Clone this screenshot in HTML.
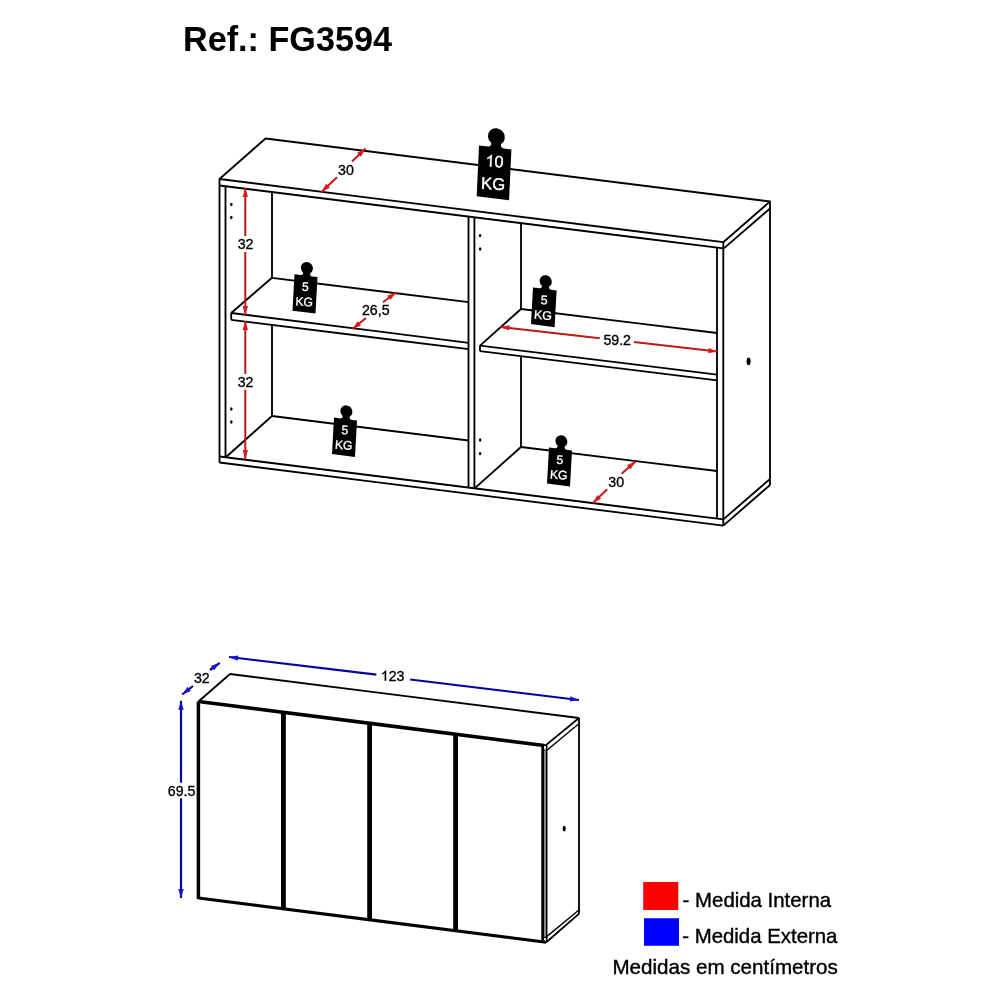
<!DOCTYPE html>
<html><head><meta charset="utf-8"><style>
html,body{margin:0;padding:0;background:#fff;}
svg{display:block;font-family:"Liberation Sans",sans-serif;will-change:transform;}
</style></head><body>
<svg width="1000" height="1000" viewBox="0 0 1000 1000">
<path d="M265.5,138.5 L770,201.5 L723.3,242.2 L219.5,179 Z" stroke="#000" stroke-width="1.85" fill="none" stroke-linejoin="round"/>
<line x1="219.5" y1="185.5" x2="723.3" y2="248.4" stroke="#000" stroke-width="1.85" stroke-linecap="butt"/>
<line x1="723.8" y1="248.4" x2="770" y2="208.5" stroke="#000" stroke-width="1.85" stroke-linecap="butt"/>
<line x1="219.5" y1="179" x2="219.5" y2="462.5" stroke="#000" stroke-width="1.85" stroke-linecap="butt"/>
<line x1="225.5" y1="186.24910678840808" x2="225.5" y2="457.2488" stroke="#000" stroke-width="1.85" stroke-linecap="butt"/>
<line x1="723.3" y1="242.2" x2="723.3" y2="525.6" stroke="#000" stroke-width="1.85" stroke-linecap="butt"/>
<line x1="717" y1="247.61343787217152" x2="717" y2="518.6" stroke="#000" stroke-width="1.85" stroke-linecap="butt"/>
<line x1="770" y1="201.5" x2="770" y2="485" stroke="#000" stroke-width="1.85" stroke-linecap="butt"/>
<line x1="219.5" y1="456.5" x2="723.3" y2="519.4" stroke="#000" stroke-width="1.85" stroke-linecap="butt"/>
<line x1="219.5" y1="462.5" x2="723.3" y2="525.6" stroke="#000" stroke-width="1.85" stroke-linecap="butt"/>
<line x1="723.3" y1="525.6" x2="770" y2="485" stroke="#000" stroke-width="1.85" stroke-linecap="butt"/>
<line x1="723.3" y1="519.4" x2="770" y2="479" stroke="#000" stroke-width="1.85" stroke-linecap="butt"/>
<line x1="468.5" y1="216.5879317189361" x2="468.5" y2="487.5879317189361" stroke="#000" stroke-width="1.85" stroke-linecap="butt"/>
<line x1="474.4" y1="217.32455339420406" x2="474.4" y2="488.32455339420403" stroke="#000" stroke-width="1.85" stroke-linecap="butt"/>
<line x1="272" y1="277.8" x2="468.5" y2="302.2" stroke="#000" stroke-width="1.85" stroke-linecap="butt"/>
<line x1="231.2" y1="313" x2="272" y2="277.8" stroke="#000" stroke-width="1.85" stroke-linecap="butt"/>
<line x1="231.2" y1="313" x2="468.5" y2="342.8" stroke="#000" stroke-width="1.85" stroke-linecap="butt"/>
<line x1="231.2" y1="319.8" x2="468.5" y2="349.2" stroke="#000" stroke-width="1.85" stroke-linecap="butt"/>
<line x1="231.2" y1="313" x2="231.2" y2="319.8" stroke="#000" stroke-width="1.85" stroke-linecap="butt"/>
<line x1="521" y1="309" x2="717" y2="333" stroke="#000" stroke-width="1.85" stroke-linecap="butt"/>
<line x1="480" y1="345.6" x2="521" y2="309" stroke="#000" stroke-width="1.85" stroke-linecap="butt"/>
<line x1="480" y1="345.6" x2="717" y2="374.6" stroke="#000" stroke-width="1.85" stroke-linecap="butt"/>
<line x1="480" y1="351.2" x2="717" y2="380.4" stroke="#000" stroke-width="1.85" stroke-linecap="butt"/>
<line x1="480" y1="345.6" x2="480" y2="351.2" stroke="#000" stroke-width="1.85" stroke-linecap="butt"/>
<line x1="272" y1="192.05468439857086" x2="272" y2="277.8" stroke="#000" stroke-width="1.85" stroke-linecap="butt"/>
<line x1="272" y1="324.8548672566372" x2="272" y2="416" stroke="#000" stroke-width="1.85" stroke-linecap="butt"/>
<line x1="521" y1="223.14261611750695" x2="521" y2="309" stroke="#000" stroke-width="1.85" stroke-linecap="butt"/>
<line x1="521" y1="356.2514767932489" x2="521" y2="447" stroke="#000" stroke-width="1.85" stroke-linecap="butt"/>
<line x1="272" y1="416" x2="468.5" y2="440.5" stroke="#000" stroke-width="1.85" stroke-linecap="butt"/>
<line x1="272" y1="416" x2="225.8" y2="457.28624" stroke="#000" stroke-width="1.85" stroke-linecap="butt"/>
<line x1="521" y1="447" x2="717" y2="471" stroke="#000" stroke-width="1.85" stroke-linecap="butt"/>
<line x1="521" y1="447" x2="474.6" y2="488.3495236204843" stroke="#000" stroke-width="1.85" stroke-linecap="butt"/>
<ellipse cx="231.3" cy="204.5" rx="1.25" ry="1.7" fill="#000"/>
<ellipse cx="231.3" cy="217.5" rx="1.25" ry="1.7" fill="#000"/>
<ellipse cx="231.3" cy="409" rx="1.25" ry="1.7" fill="#000"/>
<ellipse cx="231.3" cy="422" rx="1.25" ry="1.7" fill="#000"/>
<ellipse cx="480.1" cy="235.6" rx="1.25" ry="1.7" fill="#000"/>
<ellipse cx="480.1" cy="249" rx="1.25" ry="1.7" fill="#000"/>
<ellipse cx="480.1" cy="440" rx="1.25" ry="1.7" fill="#000"/>
<ellipse cx="480.1" cy="453.6" rx="1.25" ry="1.7" fill="#000"/>
<ellipse cx="748.6" cy="361.4" rx="2.0" ry="3.8" fill="#000"/>
<g transform="matrix(1.4087,0.1783,-0.0639,1.4111,479,145.4)"><path d="M0,0 L6.40,0 Q8.60,0 8.60,-2.76 L8.60,-2.76 A6.0,6.0 0 1 1 15.40,-2.76 L15.40,-2.76 Q15.40,0 17.60,0 L23.0,0 L23.0,36.0 L0,36.0 Z" fill="#000"/><g transform="translate(11.5,13.8) skewY(-4) translate(-11.5,-13.8)"><path d="M763,0 H583 V1147 Q518,1085 412.5,1023 T223,930 V1104 Q374,1175 487,1276 T647,1472 H763 Z" fill="#fff" stroke="#fff" stroke-width="53.4" transform="translate(5.10,13.8) scale(0.00562,-0.00562)"/><text x="11.50" y="13.8" font-size="11.5" fill="#fff" stroke="#fff" stroke-width="0.3">0</text></g><g transform="translate(11.2,29.8) skewY(-4) translate(-11.2,-29.8)"><text x="11.2" y="29.8" font-size="11.8" fill="#fff" stroke="#fff" stroke-width="0.3" text-anchor="middle">KG</text></g></g>
<g transform="matrix(1.0000,0.1217,-0.0556,1.0139,294.5,274.3)"><path d="M0,0 L6.40,0 Q8.60,0 8.60,-2.66 L8.60,-2.66 A6.0,6.0 0 1 1 15.40,-2.66 L15.40,-2.66 Q15.40,0 17.60,0 L23.0,0 L23.0,36.0 L0,36.0 Z" fill="#000"/><g transform="translate(11.5,15.0) skewY(-4) translate(-11.5,-15.0)"><text x="8.11" y="15.0" font-size="12.2" fill="#fff" stroke="#fff" stroke-width="0.3">5</text></g><g transform="translate(11.2,30.0) skewY(-4) translate(-11.2,-30.0)"><text x="11.2" y="30.0" font-size="12.2" fill="#fff" stroke="#fff" stroke-width="0.3" text-anchor="middle">KG</text></g></g>
<g transform="matrix(1.0261,0.1391,-0.0556,1.0167,533,287.4)"><path d="M0,0 L6.40,0 Q8.60,0 8.60,-2.66 L8.60,-2.66 A6.0,6.0 0 1 1 15.40,-2.66 L15.40,-2.66 Q15.40,0 17.60,0 L23.0,0 L23.0,36.0 L0,36.0 Z" fill="#000"/><g transform="translate(11.5,15.0) skewY(-4) translate(-11.5,-15.0)"><text x="8.11" y="15.0" font-size="12.2" fill="#fff" stroke="#fff" stroke-width="0.3">5</text></g><g transform="translate(11.2,30.0) skewY(-4) translate(-11.2,-30.0)"><text x="11.2" y="30.0" font-size="12.2" fill="#fff" stroke="#fff" stroke-width="0.3" text-anchor="middle">KG</text></g></g>
<g transform="matrix(1.0000,0.1304,-0.0556,1.0111,334,417.6)"><path d="M0,0 L6.40,0 Q8.60,0 8.60,-2.66 L8.60,-2.66 A6.0,6.0 0 1 1 15.40,-2.66 L15.40,-2.66 Q15.40,0 17.60,0 L23.0,0 L23.0,36.0 L0,36.0 Z" fill="#000"/><g transform="translate(11.5,15.0) skewY(-4) translate(-11.5,-15.0)"><text x="8.11" y="15.0" font-size="12.2" fill="#fff" stroke="#fff" stroke-width="0.3">5</text></g><g transform="translate(11.2,30.0) skewY(-4) translate(-11.2,-30.0)"><text x="11.2" y="30.0" font-size="12.2" fill="#fff" stroke="#fff" stroke-width="0.3" text-anchor="middle">KG</text></g></g>
<g transform="matrix(1.0000,0.1304,-0.0556,1.0056,549,447.4)"><path d="M0,0 L6.40,0 Q8.60,0 8.60,-2.66 L8.60,-2.66 A6.0,6.0 0 1 1 15.40,-2.66 L15.40,-2.66 Q15.40,0 17.60,0 L23.0,0 L23.0,36.0 L0,36.0 Z" fill="#000"/><g transform="translate(11.5,15.0) skewY(-4) translate(-11.5,-15.0)"><text x="8.11" y="15.0" font-size="12.2" fill="#fff" stroke="#fff" stroke-width="0.3">5</text></g><g transform="translate(11.2,30.0) skewY(-4) translate(-11.2,-30.0)"><text x="11.2" y="30.0" font-size="12.2" fill="#fff" stroke="#fff" stroke-width="0.3" text-anchor="middle">KG</text></g></g>
<line x1="245.3" y1="188" x2="245.3" y2="236" stroke="#b81c14" stroke-width="2.0" stroke-linecap="butt"/>
<line x1="245.3" y1="252" x2="245.3" y2="315" stroke="#b81c14" stroke-width="2.0" stroke-linecap="butt"/>
<path d="M245.30,188.00 L248.00,197.00 L242.60,197.00 Z" fill="#d81a18"/>
<path d="M245.30,315.00 L242.60,306.00 L248.00,306.00 Z" fill="#d81a18"/>
<text x="245.6" y="249.3" font-size="14.2" fill="#000" text-anchor="middle" font-weight="normal" stroke="#000" stroke-width="0.35" >32</text>
<line x1="245.3" y1="321" x2="245.3" y2="374" stroke="#b81c14" stroke-width="2.0" stroke-linecap="butt"/>
<line x1="245.3" y1="389.6" x2="245.3" y2="459" stroke="#b81c14" stroke-width="2.0" stroke-linecap="butt"/>
<path d="M245.30,321.00 L248.00,330.00 L242.60,330.00 Z" fill="#d81a18"/>
<path d="M245.30,459.00 L242.60,450.00 L248.00,450.00 Z" fill="#d81a18"/>
<text x="245.6" y="387.3" font-size="14.2" fill="#000" text-anchor="middle" font-weight="normal" stroke="#000" stroke-width="0.35" >32</text>
<line x1="365.5" y1="148.5" x2="352" y2="161.5" stroke="#b81c14" stroke-width="2.0" stroke-linecap="butt"/>
<line x1="337" y1="177.2" x2="321.5" y2="192" stroke="#b81c14" stroke-width="2.0" stroke-linecap="butt"/>
<path d="M365.50,148.50 L360.89,156.69 L357.14,152.80 Z" fill="#d81a18"/>
<path d="M321.50,192.00 L326.14,183.83 L329.87,187.74 Z" fill="#d81a18"/>
<text x="346" y="174.6" font-size="14.2" fill="#000" text-anchor="middle" font-weight="normal" stroke="#000" stroke-width="0.35" >30</text>
<line x1="396" y1="292.5" x2="383" y2="302.2" stroke="#b81c14" stroke-width="2.0" stroke-linecap="butt"/>
<line x1="366" y1="318" x2="352.5" y2="329" stroke="#b81c14" stroke-width="2.0" stroke-linecap="butt"/>
<path d="M396.00,292.50 L390.40,300.05 L387.17,295.72 Z" fill="#d81a18"/>
<path d="M352.50,329.00 L357.77,321.22 L361.18,325.41 Z" fill="#d81a18"/>
<text x="375.8" y="314.6" font-size="14.2" fill="#000" text-anchor="middle" font-weight="normal" stroke="#000" stroke-width="0.35" >26,5</text>
<line x1="500.5" y1="326.9" x2="599.7" y2="338.3" stroke="#b81c14" stroke-width="2.0" stroke-linecap="butt"/>
<line x1="634" y1="342.1" x2="717.3" y2="351.6" stroke="#b81c14" stroke-width="2.0" stroke-linecap="butt"/>
<path d="M500.50,326.90 L509.75,325.25 L509.13,330.61 Z" fill="#d81a18"/>
<path d="M717.30,351.60 L708.05,353.26 L708.66,347.90 Z" fill="#d81a18"/>
<text x="617.2" y="344.6" font-size="14.2" fill="#000" text-anchor="middle" font-weight="normal" stroke="#000" stroke-width="0.35" >59.2</text>
<line x1="635.4" y1="461.4" x2="621.6" y2="473.7" stroke="#b81c14" stroke-width="2.0" stroke-linecap="butt"/>
<line x1="607.2" y1="489.3" x2="592.8" y2="503.1" stroke="#b81c14" stroke-width="2.0" stroke-linecap="butt"/>
<path d="M635.40,461.40 L630.48,469.40 L626.88,465.37 Z" fill="#d81a18"/>
<path d="M592.80,503.10 L597.43,494.92 L601.17,498.82 Z" fill="#d81a18"/>
<text x="616.2" y="486.6" font-size="14.2" fill="#000" text-anchor="middle" font-weight="normal" stroke="#000" stroke-width="0.35" >30</text>
<line x1="198.5" y1="701.5" x2="230" y2="674" stroke="#000" stroke-width="1.85" stroke-linecap="butt"/>
<line x1="230" y1="674" x2="579" y2="718" stroke="#000" stroke-width="1.85" stroke-linecap="butt"/>
<line x1="198.5" y1="701.5" x2="544" y2="745.5" stroke="#000" stroke-width="3.5" stroke-linecap="butt"/>
<line x1="198.4" y1="701.5" x2="198.4" y2="899" stroke="#000" stroke-width="3.5" stroke-linecap="butt"/>
<line x1="198.5" y1="898" x2="546.3" y2="942.3" stroke="#000" stroke-width="3.0" stroke-linecap="butt"/>
<line x1="579" y1="718" x2="579" y2="913.6" stroke="#000" stroke-width="1.85" stroke-linecap="butt"/>
<line x1="545.6" y1="745.4" x2="579" y2="718" stroke="#000" stroke-width="1.85" stroke-linecap="butt"/>
<line x1="547.2" y1="750" x2="578.2" y2="724.2" stroke="#000" stroke-width="1.4" stroke-linecap="butt"/>
<line x1="546.3" y1="942.3" x2="579.4" y2="913.4" stroke="#000" stroke-width="1.85" stroke-linecap="butt"/>
<line x1="547.0" y1="936.4" x2="578.6" y2="910.2" stroke="#000" stroke-width="1.4" stroke-linecap="butt"/>
<line x1="542.7" y1="744" x2="542.7" y2="940.5" stroke="#000" stroke-width="2.8" stroke-linecap="butt"/>
<rect x="544" y="750.5" width="2.2" height="186.4" fill="#8a8a8a"/>
<line x1="546.7" y1="745.4" x2="546.7" y2="942" stroke="#000" stroke-width="1.5" stroke-linecap="butt"/>
<line x1="543.8" y1="937.4" x2="547.4" y2="937.1" stroke="#000" stroke-width="1.1" stroke-linecap="butt"/>
<line x1="543.8" y1="750" x2="547.4" y2="750.3" stroke="#000" stroke-width="1.1" stroke-linecap="butt"/>
<line x1="543.5" y1="744.9" x2="546.5" y2="745.5" stroke="#000" stroke-width="1.6" stroke-linecap="butt"/>
<line x1="283.45" y1="711.3185238784371" x2="283.45" y2="909.8202558941921" stroke="#000" stroke-width="4.9" stroke-linecap="butt"/>
<line x1="369.6" y1="722.2898697539797" x2="369.6" y2="920.7933582518689" stroke="#000" stroke-width="4.8" stroke-linecap="butt"/>
<line x1="455.6" y1="733.2421128798842" x2="455.6" y2="931.7473548016101" stroke="#000" stroke-width="4.8" stroke-linecap="butt"/>
<ellipse cx="564.2" cy="828.6" rx="1.6" ry="2.8" fill="#000"/>
<line x1="182.2" y1="694.5" x2="193" y2="686" stroke="#08009e" stroke-width="2.2" stroke-linecap="butt"/>
<line x1="210" y1="670" x2="219.8" y2="662.8" stroke="#08009e" stroke-width="2.2" stroke-linecap="butt"/>
<path d="M182.20,694.50 L187.60,686.81 L190.94,691.06 Z" fill="#1410c8"/>
<path d="M219.80,662.80 L214.15,670.30 L210.95,665.95 Z" fill="#1410c8"/>
<text x="201.8" y="683.2" font-size="14.2" fill="#000" text-anchor="middle" font-weight="normal" stroke="#000" stroke-width="0.35" >32</text>
<line x1="229" y1="657" x2="376.4" y2="674.6" stroke="#08009e" stroke-width="2.2" stroke-linecap="butt"/>
<line x1="410.2" y1="679.5" x2="579" y2="700" stroke="#08009e" stroke-width="2.2" stroke-linecap="butt"/>
<path d="M229.00,657.00 L238.26,655.39 L237.62,660.75 Z" fill="#1410c8"/>
<path d="M579.00,700.00 L569.74,701.60 L570.39,696.23 Z" fill="#1410c8"/>
<path d="M763,0 H583 V1147 Q518,1085 412.5,1023 T223,930 V1104 Q374,1175 487,1276 T647,1472 H763 Z" fill="#000" stroke="#000" stroke-width="50.5" transform="translate(380.75,680.8) scale(0.00693,-0.00693)"/><text x="388.65" y="680.8" font-size="14.2" fill="#000" stroke="#000" stroke-width="0.35">23</text>
<line x1="181" y1="700.8" x2="181" y2="782.7" stroke="#08009e" stroke-width="2.2" stroke-linecap="butt"/>
<line x1="181" y1="798.3" x2="181" y2="898" stroke="#08009e" stroke-width="2.2" stroke-linecap="butt"/>
<path d="M181.00,700.80 L183.70,709.80 L178.30,709.80 Z" fill="#1410c8"/>
<path d="M181.00,898.00 L178.30,889.00 L183.70,889.00 Z" fill="#1410c8"/>
<text x="181.6" y="796.0" font-size="14.2" fill="#000" text-anchor="middle" font-weight="normal" stroke="#000" stroke-width="0.35" >69.5</text>
<rect x="643.25" y="882" width="35" height="28" fill="#f00"/>
<rect x="644" y="918.25" width="35" height="27.5" fill="#00f"/>
<text x="682.6" y="906.75" font-size="20.4" fill="#000" text-anchor="start" font-weight="normal" stroke="#000" stroke-width="0.4" >- Medida Interna</text>
<text x="682.2" y="943" font-size="20.4" fill="#000" text-anchor="start" font-weight="normal" stroke="#000" stroke-width="0.4" >- Medida Externa</text>
<text x="612.4" y="973.5" font-size="20.6" fill="#000" text-anchor="start" font-weight="normal" stroke="#000" stroke-width="0.4" >Medidas em centímetros</text>
<text x="183.0" y="51.3" font-size="34.2" fill="#000" text-anchor="start" font-weight="bold" >Ref.: FG3594</text>
</svg></body></html>
